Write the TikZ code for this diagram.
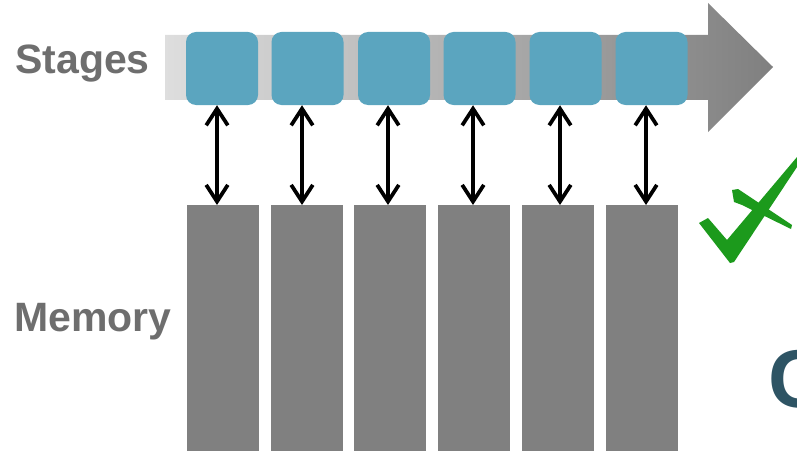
\documentclass[tikz,border=0pt]{standalone}
\usepackage{fontspec}
\setmainfont{Liberation Sans}
\usetikzlibrary{arrows.meta}
\definecolor{stageblue}{HTML}{5BA5BF}
\definecolor{memgray}{HTML}{808080}
\definecolor{labelgray}{HTML}{6E6E6E}
\definecolor{checkgreen}{HTML}{1C9A1C}
\definecolor{letterteal}{HTML}{2E5464}

\begin{document}
\begin{tikzpicture}[x=0.03cm, y=-0.03cm,
  stage/.style={fill=stageblue, rounded corners=3mm, minimum width=2.16cm, minimum height=2.19cm, inner sep=0pt},
  memory/.style={fill=memgray, minimum width=2.16cm, minimum height=7.38cm, inner sep=0pt, anchor=north},
  link/.style={line width=3.2pt, line cap=round, {Straight Barb[length=5mm,width=6.5mm]}-{Straight Barb[length=5mm,width=6.5mm]}},
  label/.style={font=\bfseries\fontsize{35}{40}\selectfont, text=labelgray, anchor=base west, inner sep=0pt}]

% Fix the frame
\clip (0,0) rectangle (797,452);

% Draw the big arrow behind the stages
\shade[left color=black!13, right color=black!50]
  (165,35) -- (708,35) -- (708,3) -- (773,67) -- (708,132) -- (708,100) -- (165,100) -- cycle;

% Stages on top, memory banks below
\foreach \i/\sx/\mx in {1/222/223, 2/307.5/307, 3/394/390, 4/479.5/474, 5/565.5/558, 6/651.5/642}
{
  \node[stage] (s\i) at (\sx,68.5) {};
  \node[memory] (m\i) at (\mx,205) {};
}

% Two-way links
\foreach \i/\ax in {1/217, 2/302, 3/388, 4/473, 5/560, 6/646}
  \draw[link] (s\i.south -| \ax,0) -- (m\i.north -| \ax,0);

\node[label] (stages) at (15,74) {Stages};
\node[label] (memory) at (14,331) {Memory};

% Check mark
\fill[checkgreen] (699,223) -- (708,218) -- (727,240) -- (797,157) -- (797,167) -- (734,262) -- (730,263) -- cycle;
\fill[checkgreen] (732,190) -- (738,189) -- (792,225) -- (791,229) -- (742,205) -- (734,202) -- cycle;

% Letter cut by the right edge
\node[anchor=base west, inner sep=0pt, font=\bfseries\fontsize{70}{80}\selectfont, text=letterteal] (next) at (768,407) {C};

\end{tikzpicture}
\end{document}
